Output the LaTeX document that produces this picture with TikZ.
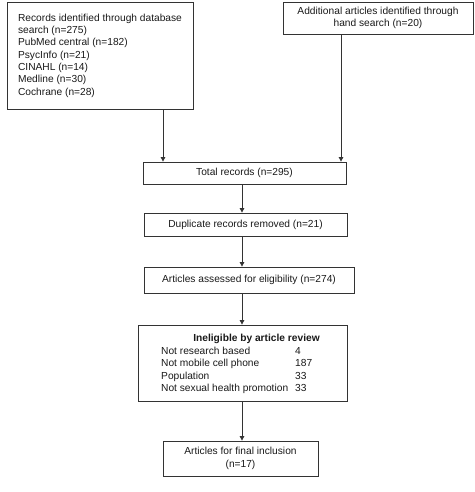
\documentclass[tikz,border=0pt]{standalone}
\usepackage{fontspec}
\setmainfont{Liberation Sans}
\usetikzlibrary{arrows.meta}
\begin{document}
\begin{tikzpicture}[x=1pt,y=-1pt,
  every node/.style={font=\fontsize{10.2}{12.3}\selectfont, text=black!90},
  box/.style={draw=black!80, line width=0.8pt, inner sep=0pt, align=center},
  txt/.style={inner sep=0pt},
  arr/.style={draw=black!80, line width=0.8pt, -{Triangle[length=4.5pt,width=4.5pt]}}]
\useasboundingbox (0,0) rectangle (474,492);
% top boxes
\node[box, minimum width=186, minimum height=107, align=left] (db) at (100,55.5)
  {Records identified through database\\search (n=275)\\PubMed central (n=182)\\PsycInfo (n=21)\\CINAHL (n=14)\\Medline (n=30)\\Cochrane (n=28)};
\node[box, minimum width=190, minimum height=32] (hand) at (378,18)
  {Additional articles identified through\\hand search (n=20)};
% flow boxes
\node[box, minimum width=203, minimum height=22] (total) at (244.5,173) {Total records (n=295)};
\node[box, minimum width=203, minimum height=23] (dup) at (245.5,224.5) {Duplicate records removed (n=21)};
\node[box, minimum width=210, minimum height=26] (elig) at (249,280) {Articles assessed for eligibility (n=274)};
\node[box, minimum width=209, minimum height=76] (inel) at (242.5,363) {};
\node[txt, font=\fontsize{10.2}{12.3}\selectfont\bfseries] (ineltitle) at (256.5,339) {Ineligible by article review};
\node[txt, anchor=west] (ineltab) at (161,370.5) {\fontsize{10.2}{12.3}\selectfont
  \begin{tabular}{@{}l@{\hspace{7pt}}l@{}}
  Not research based & 4\\
  Not mobile cell phone & 187\\
  Population & 33\\
  Not sexual health promotion & 33
  \end{tabular}};
\node[box, minimum width=155, minimum height=35] (final) at (240.5,458.5) {Articles for final inclusion\\(n=17)};
% connectors
\coordinate (colL) at (163,0);
\coordinate (colR) at (341,0);
\coordinate (colC) at (242,0);
\draw[arr] (db.south -| colL) -- (total.north -| colL);
\draw[arr] (hand.south -| colR) -- (total.north -| colR);
\draw[arr] (total.south -| colC) -- (dup.north -| colC);
\draw[arr] (dup.south -| colC) -- (elig.north -| colC);
\draw[arr] (elig.south -| colC) -- (inel.north -| colC);
\draw[arr] (inel.south -| colC) -- (final.north -| colC);
\end{tikzpicture}
\end{document}
